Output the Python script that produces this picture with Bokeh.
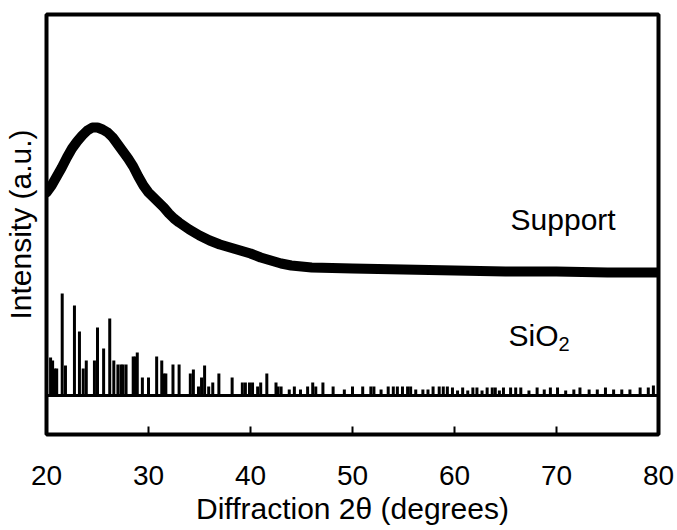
from bokeh.plotting import figure
from bokeh.models import Range1d, Label, FixedTicker
from bokeh.embed import file_html
from bokeh.resources import INLINE

# Support (amorphous hump), arbitrary units (baseline of SiO2 reference = 0)
support_2theta = [20, 20.5, 21, 21.5, 22, 22.5, 23, 23.5, 24, 24.5, 25, 25.5, 26, 26.5, 27,
                  27.5, 28, 28.5, 29, 29.5, 30, 30.5, 31, 31.5, 32, 32.5, 33, 34, 35, 36, 37,
                  38, 39, 40, 41, 42, 43, 44, 45, 46, 48, 50, 55, 60, 65, 70, 75, 80]
support_intensity = [203, 210, 219, 228, 238, 247, 254, 260, 265, 268, 268, 266, 263, 258, 251,
                     244, 237, 229, 219, 210, 203, 198, 193, 188, 182, 177, 173, 166, 160, 155,
                     151, 148, 145, 142, 138, 135, 132, 130, 129, 128, 127.5, 127, 126, 125,
                     124, 124, 123, 123]

# SiO2 reference pattern (stick positions in degrees and relative heights)
sio2_2theta = [20.4, 20.6, 20.8, 21.0, 21.54, 21.86, 22.74, 23.23, 23.6, 23.9, 24.7, 25.0, 25.6,
               26.2, 26.6, 27.0, 27.3, 27.5, 27.8, 28.5, 28.7, 28.9, 29.4, 30.0, 30.8, 31.3,
               31.5, 31.7, 32.4, 33.0, 34.1, 34.4, 34.9, 35.2, 35.5, 35.9, 36.3, 36.9, 38.2,
               39.2, 39.5, 39.9, 40.2, 40.7, 41.0, 41.6, 42.5, 42.7, 43.0, 43.8, 44.3, 44.9,
               45.6, 46.1, 46.4, 47.1, 48.1, 49.2, 50.0, 51.0, 51.8, 52.1, 52.8, 53.5, 54.0,
               54.4, 54.9, 55.4, 55.7, 56.2, 56.9, 57.4, 57.9, 58.5, 58.9, 59.3, 59.8, 60.3,
               60.8, 61.3, 61.8, 62.2, 62.7, 63.2, 63.7, 64.0, 64.4, 64.8, 65.5, 66.0, 66.5,
               67.3, 68.1, 68.8, 69.4, 70.1, 70.9, 71.7, 72.3, 73.2, 74.0, 74.8, 75.6, 76.4,
               77.2, 78.2, 79.0, 79.5]
sio2_height = [38, 35, 27, 27, 102, 30, 90, 64, 27, 35, 35, 68, 47,
               77, 35, 31, 31, 31, 31, 39, 39, 43, 18, 18, 39, 35,
               22, 22, 31, 31, 22, 26, 9, 18, 30, 9, 13, 22, 18,
               13, 13, 13, 13, 9, 13, 22, 13, 9, 9, 6, 9, 6,
               9, 13, 9, 13, 9, 6, 9, 9, 9, 9, 6, 9, 9,
               9, 9, 9, 9, 6, 6, 6, 9, 9, 9, 9, 8, 5,
               8, 5, 8, 8, 5, 8, 8, 8, 5, 8, 8, 8, 8,
               5, 8, 6, 8, 8, 5, 6, 8, 6, 6, 8, 6, 6,
               6, 8, 8, 10]

x_ticks = [20, 30, 40, 50, 60, 70, 80]

FONT = "Liberation Sans"

p = figure(width=677, height=530, output_backend="svg", toolbar_location=None,
           x_range=Range1d(20, 80), y_range=Range1d(-39, 381),
           min_border_left=45, min_border_right=19, min_border_top=14, min_border_bottom=96)
p.background_fill_color = "white"
p.border_fill_color = "white"
p.xgrid.visible = False
p.ygrid.visible = False
p.outline_line_color = "black"
p.outline_line_width = 4

# x axis
xa = p.xaxis[0]
xa.ticker = FixedTicker(ticks=x_ticks)
xa.axis_line_color = None
xa.major_tick_in = 8
xa.major_tick_out = 0
xa.major_tick_line_width = 2
xa.minor_tick_line_color = None
xa.major_label_text_font = FONT
xa.major_label_text_font_size = "28px"
xa.major_label_text_color = "black"
xa.major_label_standoff = 31
xa.axis_label = "Diffraction 2θ (degrees)"
xa.axis_label_text_font = FONT
xa.axis_label_text_font_size = "30px"
xa.axis_label_text_font_style = "normal"
xa.axis_label_text_color = "black"
xa.axis_label_standoff = 4

# y axis
ya = p.yaxis[0]
ya.ticker = FixedTicker(ticks=[])
ya.axis_line_color = None
ya.major_tick_in = 0
ya.major_tick_out = 0
ya.minor_tick_line_color = None
ya.axis_label = "Intensity (a.u.)"
ya.axis_label_text_font = FONT
ya.axis_label_text_font_size = "30px"
ya.axis_label_text_font_style = "normal"
ya.axis_label_text_color = "black"
ya.axis_label_standoff = 10

# support curve
p.line(support_2theta, support_intensity, line_color="black", line_width=10,
       line_join="round", line_cap="round")

# SiO2 reference sticks and baseline
p.segment(x0=sio2_2theta, y0=[0] * len(sio2_2theta), x1=sio2_2theta, y1=sio2_height,
          line_color="black", line_width=3)
p.segment(x0=[20], y0=[0], x1=[80], y1=[0], line_color="black", line_width=3)

# labels
p.add_layout(Label(x=65.5, y=176, text="Support", text_font=FONT, text_font_size="30px",
                   text_color="black", text_baseline="alphabetic"))
p.add_layout(Label(x=65.3, y=60, text="SiO", text_font=FONT, text_font_size="30px",
                   text_color="black", text_baseline="alphabetic"))
p.add_layout(Label(x=70.2, y=52, text="2", text_font=FONT, text_font_size="20px",
                   text_color="black", text_baseline="alphabetic"))

open("out.html", "w").write(file_html(p, INLINE))
